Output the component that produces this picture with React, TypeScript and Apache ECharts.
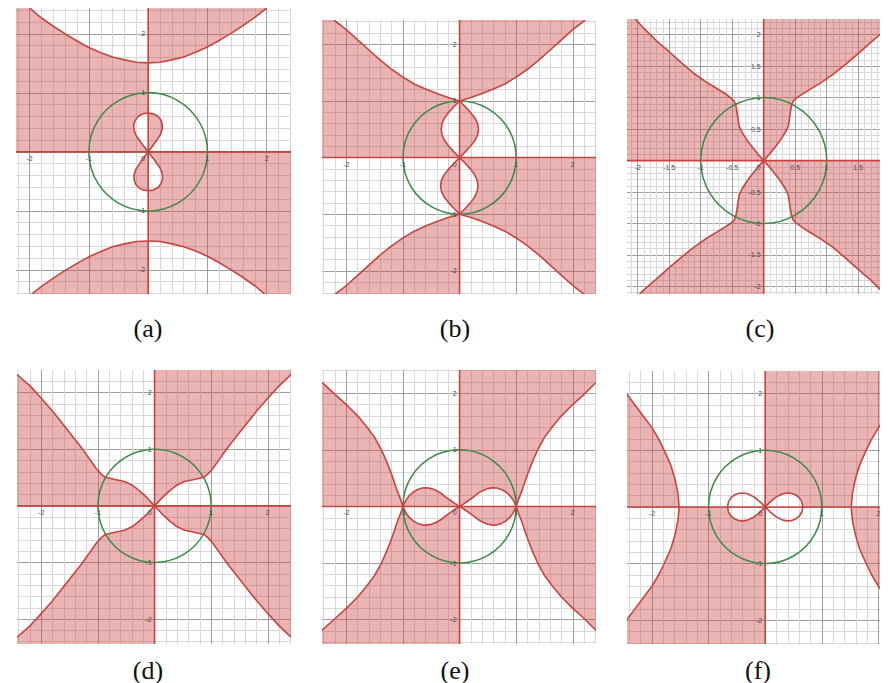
import React, { useEffect, useRef } from 'react';
import * as echarts from 'echarts';

type Pt = [number, number];

// ---------------- panel (a) ----------------
const A_XRANGE = [-2.23, 2.41];
const A_YRANGE = [-2.41, 2.44];
const A_UPPER_LEFT: Pt[] = [[-2.0, 2.44], [-1.8, 2.27], [-1.6, 2.13], [-1.4, 2.0], [-1.2, 1.88], [-1.0, 1.77], [-0.8, 1.68], [-0.6, 1.61], [-0.4, 1.56], [-0.2, 1.52], [0, 1.51]];
const A_UPPER_RIGHT: Pt[] = [[0, 1.51], [0.2, 1.52], [0.4, 1.56], [0.6, 1.61], [0.8, 1.69], [1.0, 1.78], [1.2, 1.89], [1.4, 2.01], [1.6, 2.14], [1.8, 2.28], [2.0, 2.44]];
const A_LOWER_LEFT: Pt[] = [[-2.0, -2.44], [-1.8, -2.28], [-1.6, -2.14], [-1.4, -2.01], [-1.2, -1.89], [-1.0, -1.78], [-0.8, -1.69], [-0.6, -1.61], [-0.4, -1.56], [-0.2, -1.52], [0, -1.51]];
const A_LOWER_RIGHT: Pt[] = [[0, -1.51], [0.2, -1.52], [0.4, -1.56], [0.6, -1.61], [0.8, -1.68], [1.0, -1.77], [1.2, -1.88], [1.4, -2.0], [1.6, -2.13], [1.8, -2.27], [2.0, -2.44]];
const A_LOBE_UP_RIGHT: Pt[] = [[0, 0], [0.06, 0.08], [0.11, 0.15], [0.16, 0.22], [0.21, 0.3], [0.24, 0.4], [0.235, 0.48], [0.21, 0.55], [0.16, 0.61], [0.09, 0.645], [0, 0.657]];
const A_LOBE_UP_LEFT: Pt[] = [[0, 0], [-0.05, 0.065], [-0.1, 0.13], [-0.15, 0.2], [-0.2, 0.27], [-0.235, 0.36], [-0.245, 0.45], [-0.22, 0.53], [-0.17, 0.6], [-0.09, 0.646], [0, 0.657]];
const A_LOBE_DN_RIGHT: Pt[] = [[0, 0], [0.05, -0.065], [0.1, -0.13], [0.15, -0.2], [0.2, -0.27], [0.235, -0.36], [0.245, -0.45], [0.22, -0.53], [0.17, -0.6], [0.09, -0.646], [0, -0.657]];
const A_LOBE_DN_LEFT: Pt[] = [[0, 0], [-0.06, -0.08], [-0.11, -0.15], [-0.16, -0.22], [-0.21, -0.3], [-0.24, -0.4], [-0.235, -0.48], [-0.21, -0.55], [-0.16, -0.61], [-0.09, -0.645], [0, -0.657]];

// ---------------- panel (b) ----------------
const B_XRANGE = [-2.43, 2.41];
const B_YRANGE = [-2.41, 2.43];
const B_UPPER_LEFT: Pt[] = [[-2.22, 2.43], [-2.0, 2.26], [-1.8, 2.08], [-1.6, 1.9], [-1.4, 1.72], [-1.2, 1.56], [-1.0, 1.42], [-0.8, 1.3], [-0.6, 1.21], [-0.4, 1.13], [-0.2, 1.06], [0, 1]];
const B_UPPER_RIGHT: Pt[] = [[0, 1], [0.2, 1.06], [0.4, 1.13], [0.6, 1.21], [0.8, 1.3], [1.0, 1.42], [1.2, 1.56], [1.4, 1.72], [1.6, 1.9], [1.8, 2.08], [2.0, 2.26], [2.22, 2.43]];
const B_LOWER_LEFT: Pt[] = [[-2.22, -2.43], [-2.0, -2.26], [-1.8, -2.08], [-1.6, -1.9], [-1.4, -1.72], [-1.2, -1.56], [-1.0, -1.42], [-0.8, -1.3], [-0.6, -1.21], [-0.4, -1.13], [-0.2, -1.06], [0, -1]];
const B_LOWER_RIGHT: Pt[] = [[0, -1], [0.2, -1.06], [0.4, -1.13], [0.6, -1.21], [0.8, -1.3], [1.0, -1.42], [1.2, -1.56], [1.4, -1.72], [1.6, -1.9], [1.8, -2.08], [2.0, -2.26], [2.22, -2.43]];
const B_LOBE_UP_LEFT: Pt[] = [[0, 0], [-0.1, 0.1], [-0.19, 0.2], [-0.265, 0.3], [-0.31, 0.4], [-0.325, 0.5], [-0.31, 0.6], [-0.265, 0.7], [-0.19, 0.8], [-0.1, 0.9], [0, 1]];
const B_LOBE_UP_RIGHT: Pt[] = [[0, 0], [0.1, 0.1], [0.19, 0.2], [0.27, 0.3], [0.32, 0.4], [0.335, 0.5], [0.32, 0.6], [0.27, 0.7], [0.19, 0.8], [0.1, 0.9], [0, 1]];
const B_LOBE_DN_LEFT: Pt[] = [[0, 0], [-0.1, -0.1], [-0.19, -0.2], [-0.27, -0.3], [-0.32, -0.4], [-0.335, -0.5], [-0.32, -0.6], [-0.27, -0.7], [-0.19, -0.8], [-0.1, -0.9], [0, -1]];
const B_LOBE_DN_RIGHT: Pt[] = [[0, 0], [0.1, -0.1], [0.19, -0.2], [0.265, -0.3], [0.31, -0.4], [0.325, -0.5], [0.31, -0.6], [0.265, -0.7], [0.19, -0.8], [0.1, -0.9], [0, -1]];

// ---------------- panel (c) ----------------
const C_XRANGE = [-2.17, 2.1];
const C_YRANGE = [-2.12, 2.25];
const C_UPPER_LEFT: Pt[] = [[-2.04, 2.25], [-1.9, 2.1], [-1.7, 1.9], [-1.5, 1.73], [-1.3, 1.55], [-1.1, 1.38], [-0.9, 1.24], [-0.75, 1.15], [-0.62, 1.07], [-0.53, 1.0], [-0.47, 0.95], [-0.44, 0.87], [-0.425, 0.78], [-0.41, 0.68], [-0.39, 0.55], [-0.35, 0.46], [-0.3, 0.38], [-0.24, 0.29], [-0.17, 0.2], [-0.09, 0.1], [0, 0]];
const C_UPPER_RIGHT: Pt[] = [[0, 0], [0.09, 0.1], [0.17, 0.2], [0.24, 0.29], [0.3, 0.38], [0.35, 0.46], [0.39, 0.55], [0.41, 0.68], [0.425, 0.78], [0.44, 0.87], [0.47, 0.95], [0.53, 1.0], [0.62, 1.06], [0.75, 1.14], [0.9, 1.23], [1.1, 1.37], [1.3, 1.53], [1.5, 1.7], [1.7, 1.88], [1.9, 2.05], [2.1, 2.22]];
const C_LOWER_LEFT: Pt[] = [[0, 0], [-0.09, -0.1], [-0.17, -0.2], [-0.24, -0.29], [-0.3, -0.38], [-0.35, -0.46], [-0.39, -0.55], [-0.41, -0.68], [-0.425, -0.78], [-0.44, -0.87], [-0.47, -0.95], [-0.53, -1.0], [-0.62, -1.06], [-0.75, -1.14], [-0.9, -1.23], [-1.1, -1.37], [-1.3, -1.53], [-1.5, -1.7], [-1.7, -1.88], [-1.9, -2.05], [-1.98, -2.13]];
const C_LOWER_RIGHT: Pt[] = [[0, 0], [0.09, -0.1], [0.17, -0.2], [0.24, -0.29], [0.3, -0.38], [0.35, -0.46], [0.39, -0.55], [0.41, -0.68], [0.425, -0.78], [0.44, -0.87], [0.47, -0.95], [0.53, -1.0], [0.62, -1.07], [0.75, -1.15], [0.9, -1.24], [1.1, -1.38], [1.3, -1.55], [1.5, -1.73], [1.7, -1.9], [1.9, -2.1], [1.93, -2.13]];

// ---------------- panel (d) ----------------
const D_XRANGE = [-2.43, 2.41];
const D_YRANGE = [-2.44, 2.4];
const D_UPPER_LEFT: Pt[] = [[-2.43, 2.32], [-2.2, 2.12], [-2.0, 1.9], [-1.8, 1.67], [-1.6, 1.42], [-1.45, 1.23], [-1.3, 1.04], [-1.15, 0.83], [-1.03, 0.66], [-0.95, 0.57], [-0.87, 0.505], [-0.7, 0.465], [-0.53, 0.43], [-0.4, 0.37], [-0.27, 0.27], [-0.13, 0.14], [0, 0]];
const D_UPPER_RIGHT: Pt[] = [[0, 0], [0.13, 0.14], [0.27, 0.27], [0.4, 0.37], [0.53, 0.43], [0.7, 0.465], [0.87, 0.505], [0.95, 0.57], [1.03, 0.66], [1.15, 0.83], [1.3, 1.04], [1.45, 1.23], [1.6, 1.42], [1.8, 1.67], [2.0, 1.9], [2.2, 2.12], [2.41, 2.32]];
const D_LOWER_LEFT: Pt[] = [[0, 0], [-0.13, -0.14], [-0.27, -0.27], [-0.4, -0.37], [-0.53, -0.43], [-0.7, -0.465], [-0.87, -0.505], [-0.95, -0.57], [-1.03, -0.66], [-1.15, -0.83], [-1.3, -1.04], [-1.45, -1.23], [-1.6, -1.42], [-1.8, -1.67], [-2.0, -1.9], [-2.2, -2.12], [-2.43, -2.32]];
const D_LOWER_RIGHT: Pt[] = [[0, 0], [0.13, -0.14], [0.27, -0.27], [0.4, -0.37], [0.53, -0.43], [0.7, -0.465], [0.87, -0.505], [0.95, -0.57], [1.03, -0.66], [1.15, -0.83], [1.3, -1.04], [1.45, -1.23], [1.6, -1.42], [1.8, -1.67], [2.0, -1.9], [2.2, -2.12], [2.41, -2.32]];

// ---------------- panel (e) ----------------
const E_XRANGE = [-2.43, 2.41];
const E_YRANGE = [-2.43, 2.41];
const E_UPPER_LEFT: Pt[] = [[-2.43, 2.19], [-2.2, 1.98], [-2.0, 1.8], [-1.8, 1.6], [-1.65, 1.42], [-1.5, 1.22], [-1.38, 1.0], [-1.3, 0.82], [-1.22, 0.62], [-1.16, 0.45], [-1.1, 0.27], [-1.04, 0.12], [-1, 0]];
const E_UPPER_RIGHT: Pt[] = [[1, 0], [1.04, 0.12], [1.1, 0.27], [1.16, 0.45], [1.22, 0.62], [1.3, 0.82], [1.38, 1.0], [1.5, 1.22], [1.65, 1.42], [1.8, 1.6], [2.0, 1.8], [2.2, 1.98], [2.41, 2.19]];
const E_LOWER_LEFT: Pt[] = [[-2.43, -2.19], [-2.2, -1.98], [-2.0, -1.8], [-1.8, -1.6], [-1.65, -1.42], [-1.5, -1.22], [-1.38, -1.0], [-1.3, -0.82], [-1.22, -0.62], [-1.16, -0.45], [-1.1, -0.27], [-1.04, -0.12], [-1, 0]];
const E_LOWER_RIGHT: Pt[] = [[1, 0], [1.04, -0.12], [1.1, -0.27], [1.16, -0.45], [1.22, -0.62], [1.3, -0.82], [1.38, -1.0], [1.5, -1.22], [1.65, -1.42], [1.8, -1.6], [2.0, -1.8], [2.2, -1.98], [2.41, -2.19]];
const E_LOBE_RIGHT_UP: Pt[] = [[0, 0], [0.08, 0.05], [0.16, 0.105], [0.25, 0.17], [0.33, 0.235], [0.42, 0.285], [0.5, 0.315], [0.58, 0.33], [0.66, 0.325], [0.74, 0.3], [0.82, 0.255], [0.89, 0.19], [0.95, 0.11], [1, 0]];
const E_LOBE_RIGHT_DN: Pt[] = [[0, 0], [0.08, -0.05], [0.16, -0.105], [0.25, -0.17], [0.33, -0.235], [0.42, -0.285], [0.5, -0.315], [0.58, -0.33], [0.66, -0.325], [0.74, -0.3], [0.82, -0.255], [0.89, -0.19], [0.95, -0.11], [1, 0]];
const E_LOBE_LEFT_UP: Pt[] = [[0, 0], [-0.08, 0.05], [-0.16, 0.105], [-0.25, 0.17], [-0.33, 0.235], [-0.42, 0.285], [-0.5, 0.315], [-0.58, 0.33], [-0.66, 0.325], [-0.74, 0.3], [-0.82, 0.255], [-0.89, 0.19], [-0.95, 0.11], [-1, 0]];
const E_LOBE_LEFT_DN: Pt[] = [[0, 0], [-0.08, -0.05], [-0.16, -0.105], [-0.25, -0.17], [-0.33, -0.235], [-0.42, -0.285], [-0.5, -0.315], [-0.58, -0.33], [-0.66, -0.325], [-0.74, -0.3], [-0.82, -0.255], [-0.89, -0.19], [-0.95, -0.11], [-1, 0]];

// ---------------- panel (f) ----------------
const F_XRANGE = [-2.44, 2.31];
const F_YRANGE = [-2.42, 2.4];
const F_LEFT_UP: Pt[] = [[-2.44, 1.99], [-2.3, 1.8], [-2.15, 1.6], [-2.0, 1.4], [-1.87, 1.18], [-1.76, 0.95], [-1.66, 0.72], [-1.59, 0.48], [-1.54, 0.24], [-1.52, 0]];
const F_LEFT_DN: Pt[] = [[-1.52, 0], [-1.54, -0.24], [-1.59, -0.48], [-1.66, -0.72], [-1.76, -0.95], [-1.87, -1.18], [-2.0, -1.4], [-2.15, -1.6], [-2.3, -1.8], [-2.44, -1.99]];
const F_RIGHT_UP: Pt[] = [[2.31, 1.82], [2.15, 1.6], [2.0, 1.4], [1.87, 1.18], [1.76, 0.95], [1.66, 0.72], [1.59, 0.48], [1.54, 0.24], [1.52, 0]];
const F_RIGHT_DN: Pt[] = [[1.52, 0], [1.54, -0.24], [1.59, -0.48], [1.66, -0.72], [1.76, -0.95], [1.87, -1.18], [2.0, -1.4], [2.15, -1.6], [2.31, -1.82]];
const F_LOBE_RIGHT_UP: Pt[] = [[0, 0], [0.09, 0.09], [0.19, 0.173], [0.31, 0.233], [0.385, 0.246], [0.46, 0.242], [0.536, 0.215], [0.602, 0.164], [0.648, 0.089], [0.665, 0]];
const F_LOBE_RIGHT_DN: Pt[] = [[0, 0], [0.09, -0.09], [0.19, -0.173], [0.31, -0.233], [0.385, -0.246], [0.46, -0.242], [0.536, -0.215], [0.602, -0.164], [0.648, -0.089], [0.665, 0]];
const F_LOBE_LEFT_UP: Pt[] = [[0, 0], [-0.09, 0.09], [-0.19, 0.173], [-0.31, 0.233], [-0.385, 0.246], [-0.46, 0.242], [-0.536, 0.215], [-0.602, 0.164], [-0.648, 0.089], [-0.665, 0]];
const F_LOBE_LEFT_DN: Pt[] = [[0, 0], [-0.09, -0.09], [-0.19, -0.173], [-0.31, -0.233], [-0.385, -0.246], [-0.46, -0.242], [-0.536, -0.215], [-0.602, -0.164], [-0.648, -0.089], [-0.665, 0]];

// unit circle
const CIRCLE_CENTER: Pt = [0, 0];
const CIRCLE_RADIUS = [1];

// tick labels, grid steps and captions
const X_TICKS_1 = [-2, -1, 0, 1, 2];
const Y_TICKS_1 = [-2, -1, 1, 2];
const X_TICKS_C = [-2, -1.5, -1, -0.5, 0, 0.5, 1, 1.5, 2];
const Y_TICKS_C = [-2, -1.5, -1, -0.5, 0.5, 1, 1.5, 2];
const TICK_STEPS = [1, 1, 0.5, 1, 1, 1];
const CAPTIONS = ['(a)', '(b)', '(c)', '(d)', '(e)', '(f)'];

// ---------------- layout & style ----------------
const LAYOUT = [
  { grid: { left: 8, top: 0, width: 275, height: 286 }, cap: [140, 320] },
  { grid: { left: 314, top: 12, width: 274, height: 274 }, cap: [447, 320] },
  { grid: { left: 619, top: 11, width: 269, height: 275 }, cap: [752, 320] },
  { grid: { left: 9, top: 362, width: 274, height: 274 }, cap: [140, 662] },
  { grid: { left: 314, top: 362, width: 274, height: 274 }, cap: [447, 662] },
  { grid: { left: 619, top: 363, width: 269, height: 273 }, cap: [750, 662] },
];
const RED = '#c74440';
const FILL = 'rgba(199,68,64,0.4)';
const GREEN = '#388c46';
const MAJOR = '#a0a0a0';
const MINOR = '#d8d8d8';
const LABEL = '#4a4a4a';

const rev = (a: Pt[]) => [...a].reverse();

function buildPanels() {
  const out: any[] = [];
  {
    const [X0, X1] = A_XRANGE; const [Y0, Y1] = A_YRANGE;
    out.push({
      xr: A_XRANGE, yr: A_YRANGE, xt: X_TICKS_1, yt: Y_TICKS_1,
      fills: [
        [[X0, 0], [X0, Y1], ...A_UPPER_LEFT, ...rev(A_LOBE_UP_LEFT)],
        [[0, Y1], ...rev(A_UPPER_RIGHT)],
        A_LOBE_UP_RIGHT,
        [[0, 0], [X1, 0], [X1, Y0], ...rev(A_LOWER_RIGHT), ...rev(A_LOBE_DN_RIGHT)],
        [...A_LOWER_LEFT, [0, Y0]],
        A_LOBE_DN_LEFT,
      ],
      curves: [A_UPPER_LEFT, A_UPPER_RIGHT, A_LOWER_LEFT, A_LOWER_RIGHT, A_LOBE_UP_LEFT, A_LOBE_UP_RIGHT, A_LOBE_DN_LEFT, A_LOBE_DN_RIGHT,
        [[X0, 0], [X1, 0]], [[0, Y0], [0, Y1]]],
    });
  }
  {
    const [X0, X1] = B_XRANGE; const [Y0, Y1] = B_YRANGE;
    out.push({
      xr: B_XRANGE, yr: B_YRANGE, xt: X_TICKS_1, yt: Y_TICKS_1,
      fills: [
        [[X0, 0], [X0, Y1], ...B_UPPER_LEFT, ...rev(B_LOBE_UP_LEFT)],
        [[0, Y1], ...rev(B_UPPER_RIGHT)],
        B_LOBE_UP_RIGHT,
        [[0, 0], [X1, 0], [X1, Y0], ...rev(B_LOWER_RIGHT), ...rev(B_LOBE_DN_RIGHT)],
        [...B_LOWER_LEFT, [0, Y0]],
        B_LOBE_DN_LEFT,
      ],
      curves: [B_UPPER_LEFT, B_UPPER_RIGHT, B_LOWER_LEFT, B_LOWER_RIGHT, B_LOBE_UP_LEFT, B_LOBE_UP_RIGHT, B_LOBE_DN_LEFT, B_LOBE_DN_RIGHT,
        [[X0, 0], [X1, 0]], [[0, Y0], [0, Y1]]],
    });
  }
  {
    const [X0, X1] = C_XRANGE; const [Y0, Y1] = C_YRANGE;
    out.push({
      xr: C_XRANGE, yr: C_YRANGE, xt: X_TICKS_C, yt: Y_TICKS_C,
      fills: [
        [[X0, 0], [X0, Y1], ...C_UPPER_LEFT],
        [...C_UPPER_RIGHT, [X1, Y1], [0, Y1]],
        [...C_LOWER_RIGHT, [X1, Y0], [X1, 0]],
        [...C_LOWER_LEFT, [0, Y0]],
      ],
      curves: [C_UPPER_LEFT, C_UPPER_RIGHT, C_LOWER_LEFT, C_LOWER_RIGHT, [[X0, 0], [X1, 0]], [[0, Y0], [0, Y1]]],
    });
  }
  {
    const [X0, X1] = D_XRANGE; const [Y0, Y1] = D_YRANGE;
    out.push({
      xr: D_XRANGE, yr: D_YRANGE, xt: X_TICKS_1, yt: Y_TICKS_1,
      fills: [
        [[X0, 0], ...D_UPPER_LEFT],
        [...D_UPPER_RIGHT, [X1, Y1], [0, Y1]],
        [...D_LOWER_RIGHT, [X1, 0]],
        [...D_LOWER_LEFT, [X0, Y0], [0, Y0]],
      ],
      curves: [D_UPPER_LEFT, D_UPPER_RIGHT, D_LOWER_LEFT, D_LOWER_RIGHT, [[X0, 0], [X1, 0]], [[0, Y0], [0, Y1]]],
    });
  }
  {
    const [X0, X1] = E_XRANGE; const [Y0, Y1] = E_YRANGE;
    out.push({
      xr: E_XRANGE, yr: E_YRANGE, xt: X_TICKS_1, yt: Y_TICKS_1,
      fills: [
        [[X0, 0], ...E_UPPER_LEFT],
        E_LOBE_LEFT_UP,
        [[0, 0], [0, Y1], [X1, Y1], ...rev(E_UPPER_RIGHT), ...rev(E_LOBE_RIGHT_UP)],
        [...E_LOWER_RIGHT, [X1, 0]],
        E_LOBE_RIGHT_DN,
        [[0, 0], [0, Y0], [X0, Y0], ...E_LOWER_LEFT, ...rev(E_LOBE_LEFT_DN)],
      ],
      curves: [E_UPPER_LEFT, E_UPPER_RIGHT, E_LOWER_LEFT, E_LOWER_RIGHT, E_LOBE_RIGHT_UP, E_LOBE_RIGHT_DN, E_LOBE_LEFT_UP, E_LOBE_LEFT_DN,
        [[X0, 0], [X1, 0]], [[0, Y0], [0, Y1]]],
    });
  }
  {
    const [X0, X1] = F_XRANGE; const [Y0, Y1] = F_YRANGE;
    out.push({
      xr: F_XRANGE, yr: F_YRANGE, xt: X_TICKS_1, yt: Y_TICKS_1,
      fills: [
        [[X0, 0], ...F_LEFT_UP],
        [[0, 0], ...F_LOBE_LEFT_DN, ...F_LEFT_DN, [X0, Y0], [0, Y0]],
        [[0, 0], [0, Y1], [X1, Y1], ...F_RIGHT_UP, ...rev(F_LOBE_RIGHT_UP)],
        [...F_RIGHT_DN, [X1, 0]],
      ],
      curves: [F_LEFT_UP, F_LEFT_DN, F_RIGHT_UP, F_RIGHT_DN, F_LOBE_RIGHT_UP, F_LOBE_RIGHT_DN, F_LOBE_LEFT_UP, F_LOBE_LEFT_DN,
        [[X0, 0], [X1, 0]], [[0, Y0], [0, Y1]]],
    });
  }
  return out;
}

function fmt(v: number) {
  return String(Math.round(v * 10) / 10);
}

function buildOption() {
  const panels = buildPanels();
  const grid: any[] = [];
  const xAxis: any[] = [];
  const yAxis: any[] = [];
  const series: any[] = [];
  const graphic: any[] = [];

  panels.forEach((p, i) => {
    const L = LAYOUT[i];
    const step = TICK_STEPS[i];
    const gridRight = L.grid.left + L.grid.width;
    grid.push({ ...L.grid, containLabel: false, outerBoundsMode: 'none', show: false });
    const common = (range: number[]) => ({
      type: 'value',
      gridIndex: i,
      min: range[0],
      max: range[1],
      splitNumber: 5,
      minInterval: step,
      maxInterval: step,
      axisLine: { show: false },
      axisTick: { show: false },
      axisLabel: { show: false },
      splitLine: { show: true, showMinLine: false, showMaxLine: false, lineStyle: { color: MAJOR, width: 1 } },
      minorTick: { show: false, splitNumber: 5 },
      minorSplitLine: { show: true, lineStyle: { color: MINOR, width: 1 } },
    });
    xAxis.push(common(p.xr));
    yAxis.push(common(p.yr));

    const fills = p.fills as Pt[][];
    series.push({
      type: 'custom',
      name: 'region' + i,
      coordinateSystem: 'cartesian2d',
      xAxisIndex: i,
      yAxisIndex: i,
      clip: true,
      silent: true,
      z: 2,
      data: fills.map((_, k) => [0, 0, k]),
      encode: { x: 0, y: 1 },
      renderItem: (params: any, api: any) => ({
        type: 'polygon',
        shape: { points: fills[params.dataIndex].map((q) => api.coord(q)) },
        style: { fill: FILL, stroke: null, lineWidth: 0 },
      }),
    });
    series.push({
      type: 'custom',
      name: 'circle' + i,
      coordinateSystem: 'cartesian2d',
      xAxisIndex: i,
      yAxisIndex: i,
      clip: true,
      silent: true,
      z: 3,
      data: [[CIRCLE_CENTER[0], CIRCLE_CENTER[1], CIRCLE_RADIUS[0]]],
      encode: { x: 0, y: 1 },
      renderItem: (params: any, api: any) => {
        const c = api.coord([api.value(0), api.value(1)]);
        const r = api.size([api.value(2), api.value(2)])[0];
        return {
          type: 'circle',
          shape: { cx: c[0], cy: c[1], r },
          style: { fill: null, stroke: GREEN, lineWidth: 1.5 },
        };
      },
    });
    const curves = p.curves as Pt[][];
    series.push({
      type: 'custom',
      name: 'curve' + i,
      coordinateSystem: 'cartesian2d',
      xAxisIndex: i,
      yAxisIndex: i,
      clip: true,
      silent: true,
      z: 4,
      data: curves.map((_, k) => [0, 0, k]),
      encode: { x: 0, y: 1 },
      renderItem: (params: any, api: any) => ({
        type: 'polyline',
        shape: { points: curves[params.dataIndex].map((q) => api.coord(q)) },
        style: { fill: null, stroke: RED, lineWidth: 1.6, lineJoin: 'round' },
      }),
    });

    // tick labels placed along the axes (x labels below y=0, y labels left of x=0)
    const labelItems: any[] = [
      ...(p.xt as number[]).map((v) => [v, 0, 0]),
      ...(p.yt as number[]).map((v) => [0, v, 1]),
    ];
    series.push({
      type: 'custom',
      name: 'ticks' + i,
      coordinateSystem: 'cartesian2d',
      xAxisIndex: i,
      yAxisIndex: i,
      clip: false,
      silent: true,
      z: 5,
      data: labelItems,
      encode: { x: 0, y: 1 },
      renderItem: (params: any, api: any) => {
        const vx = api.value(0);
        const vy = api.value(1);
        const isY = api.value(2) === 1;
        const c = api.coord([vx, vy]);
        const isZero = !isY && Math.abs(vx) < 1e-9;
        const nearRight = !isY && gridRight - c[0] < 9;
        let align = 'center';
        let x = c[0];
        if (isY || isZero) { align = 'right'; x = c[0] - 3; }
        else if (nearRight) { align = 'right'; x = c[0] - 1.5; }
        return {
          type: 'text',
          x,
          y: isY ? c[1] : c[1] + 3,
          style: {
            text: fmt(isY ? vy : vx),
            fontSize: 7,
            fontFamily: '"Liberation Sans", Arial, sans-serif',
            fill: LABEL,
            align,
            verticalAlign: isY ? 'middle' : 'top',
          },
        };
      },
    });

    graphic.push({
      type: 'text',
      x: L.cap[0],
      y: L.cap[1],
      silent: true,
      style: {
        text: CAPTIONS[i],
        fontSize: 26,
        fontFamily: '"Liberation Serif", "DejaVu Serif", serif',
        fill: '#111',
        align: 'center',
        verticalAlign: 'middle',
      },
    });
  });

  return {
    animation: false,
    backgroundColor: '#ffffff',
    tooltip: { show: false },
    grid,
    xAxis,
    yAxis,
    series,
    graphic,
  };
}

export default function App() {
  const ref = useRef<HTMLDivElement>(null);
  useEffect(() => {
    if (!ref.current) return;
    const chart = echarts.init(ref.current, null, { renderer: 'svg' });
    chart.setOption(buildOption() as any);
    return () => chart.dispose();
  }, []);
  return (
    <div
      ref={ref}
      style={{ position: 'fixed', left: 0, top: 0, width: 888, height: 683, background: '#fff' }}
    />
  );
}
